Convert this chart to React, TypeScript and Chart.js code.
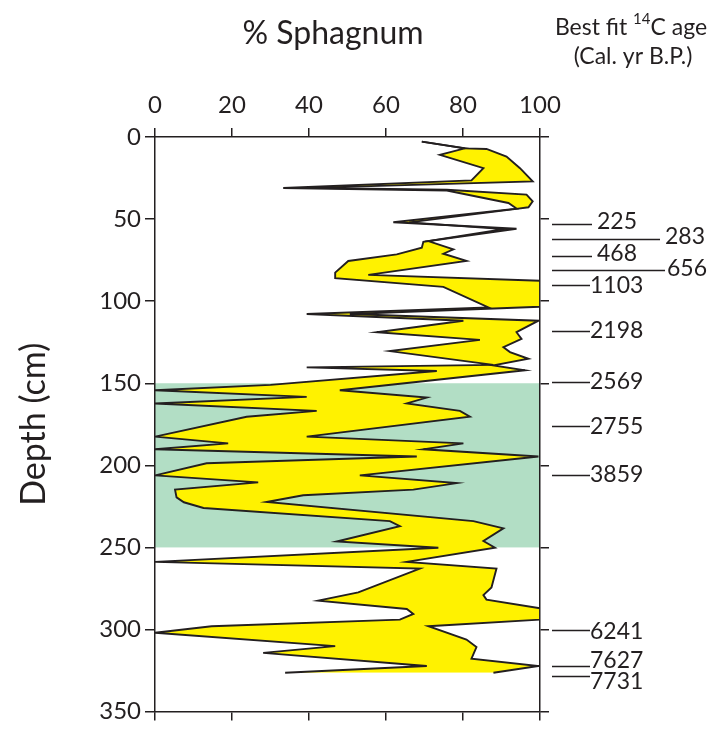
import React, { useEffect, useRef } from "react";
import { Chart, registerables } from "chart.js";

Chart.register(...registerables);

const FONT = "Lato, 'Open Sans', sans-serif";
const INK = "#231f20";
const YELLOW = "#fff200";
const ZONE_GREEN = "#b2dec5";

// Axis ticks
const percentTicks = [0, 20, 40, 60, 80, 100];
const depthTicks = [0, 50, 100, 150, 200, 250, 300, 350];

// Lower bound of % Sphagnum (left edge of the envelope)
const lowerPct = [
  69.3, 80.5, 74.0, 85.3, 82.2, 33.3, 75.8, 91.8, 93.9, 61.9,
  93.9, 69.7, 69.3, 62.8, 50.2, 46.8, 46.8, 74.9, 86.6, 39.4,
  80.1, 57.6, 84.4, 61.0, 87.9, 39.4, 73.2, 30.0, 0, 39.4,
  0, 42.0, 23.8, 0, 19.0, 0, 68.0, 13.4, 0, 26.8,
  5.2, 5.6, 7.5, 12.6, 61.0, 63.6, 47.2, 73.6, 0, 68.8,
  52.8, 42.4, 65.4, 67.1, 63.6, 14.7, 0, 46.8, 28.1, 70.6,
  33.8,
];
const lowerDepth = [
  2.8, 6.9, 10.9, 19.0, 26.4, 31.1, 32.6, 40.2, 43.6, 51.9,
  55.9, 63.8, 67.4, 71.5, 75.5, 82.6, 86.0, 91.3, 103.8, 107.8,
  111.9, 118.9, 123.6, 130.4, 138.8, 140.3, 142.5, 151.0, 154.3, 158.3,
  162.3, 166.8, 170.4, 182.5, 186.6, 190.2, 194.6, 198.7, 206.1, 210.4,
  214.8, 219.5, 222.5, 226.0, 234.0, 237.0, 246.4, 250.2, 258.8, 262.9,
  277.4, 282.4, 287.5, 290.5, 294.0, 298.0, 302.0, 310.1, 314.2, 322.2,
  326.3,
];

// Upper bound of % Sphagnum (right edge of the envelope)
const upperPct = [
  69.3, 80.5, 86.1, 91.3, 94.8, 98.1, 40.3, 75.8, 96.5, 98.1,
  97.0, 93.9, 66.0, 90.5, 71.0, 77.5, 74.9, 80.9, 55.4, 100,
  100, 50.6, 99.6, 93.9, 95.2, 90.5, 92.2, 97.0, 87.9, 96.1,
  48.0, 70.6, 65.4, 79.2, 81.8, 39.4, 80.1, 69.7, 99.6, 53.2,
  78.4, 67.1, 38.5, 29.0, 82.7, 90.5, 85.3, 88.3, 65.4, 88.7,
  87.4, 85.3, 86.1, 100, 100, 71.0, 80.9, 83.5, 82.2, 99.6,
  87.9,
];
const upperDepth = [
  2.8, 6.9, 7.3, 11.9, 19.0, 27.0, 31.0, 32.1, 35.1, 39.2,
  42.8, 43.8, 52.0, 56.1, 63.4, 68.4, 71.1, 75.5, 84.0, 87.6,
  103.4, 107.8, 111.9, 118.9, 123.0, 128.0, 131.0, 135.1, 139.1, 142.1,
  154.3, 158.7, 162.3, 166.8, 170.4, 182.5, 186.6, 190.2, 194.6, 206.1,
  210.8, 214.8, 218.2, 222.3, 234.0, 238.4, 246.1, 250.2, 258.8, 262.9,
  274.4, 279.0, 281.8, 287.1, 294.0, 298.0, 306.1, 310.7, 317.8, 322.2,
  326.3,
];

// Shaded interval (cm)
const zoneTop = 150;
const zoneBottom = 250;

// Best-fit 14C ages (cal yr B.P.) and their depths (cm)
const ageLabels = ["225", "283", "468", "656", "1103", "2198", "2569", "2755", "3859", "6241", "7627", "7731"];
const ageDepths = [52.7, 62.4, 72.5, 81.0, 90.3, 118.3, 149.1, 176.1, 205.7, 300.2, 322.2, 328.2];
// leader length and label offsets per age
const ageLeader = [40, 108, 40, 113, 38, 38, 38, 38, 38, 38, 38, 38];
const ageTextDx = [5, 5, 5, 2, 0, 0, 0, 0, 0, 0, 0, 0];
const ageTextDy = [-3, -3, -3, -2, 0, -1, -1, 0, -1, 1, -6, 5];

const zonePlugin = {
  id: "zoneBand",
  beforeDraw(chart: any) {
    const { ctx, chartArea, scales } = chart;
    const y0 = scales.y.getPixelForValue(zoneTop);
    const y1 = scales.y.getPixelForValue(zoneBottom);
    ctx.save();
    ctx.fillStyle = ZONE_GREEN;
    ctx.fillRect(chartArea.left, y0, chartArea.right - chartArea.left, y1 - y0);
    ctx.restore();
  },
};

const textPlugin = {
  id: "annotationText",
  afterDraw(chart: any) {
    const { ctx, chartArea, scales } = chart;
    ctx.save();
    ctx.strokeStyle = INK;
    ctx.fillStyle = INK;
    ctx.lineWidth = 1.5;
    ctx.font = `23px ${FONT}`;
    ctx.textBaseline = "middle";
    ctx.textAlign = "left";
    ageLabels.forEach((label, i) => {
      const y = Math.round(scales.y.getPixelForValue(ageDepths[i])) + 0.5;
      const x0 = chartArea.right + 12;
      const x1 = x0 + ageLeader[i];
      ctx.beginPath();
      ctx.moveTo(x0, y);
      ctx.lineTo(x1, y);
      ctx.stroke();
      ctx.fillText(label, x1 + ageTextDx[i], y + ageTextDy[i]);
    });

    // x-axis title
    ctx.textAlign = "center";
    ctx.font = `32px ${FONT}`;
    ctx.fillText("% Sphagnum", 333, 34);

    // age column header
    const cx = 631;
    const main = `23px ${FONT}`;
    const sup = `15px ${FONT}`;
    ctx.font = main;
    const w1 = ctx.measureText("Best fit ").width;
    const w3 = ctx.measureText("C age").width;
    ctx.font = sup;
    const w2 = ctx.measureText("14").width;
    let x = cx - (w1 + w2 + w3) / 2;
    ctx.textAlign = "left";
    ctx.font = main;
    ctx.fillText("Best fit ", x, 28);
    x += w1;
    ctx.font = sup;
    ctx.fillText("14", x, 19);
    x += w2;
    ctx.font = main;
    ctx.fillText("C age", x, 28);
    ctx.textAlign = "center";
    ctx.fillText("(Cal. yr B.P.)", cx + 2, 57);
    ctx.restore();
  },
};

export default function App() {
  const canvasRef = useRef<HTMLCanvasElement>(null);

  useEffect(() => {
    const canvas = canvasRef.current;
    if (!canvas) return;

    const lower = lowerDepth.map((d, i) => ({ x: lowerPct[i], y: d }));
    const upper = upperDepth.map((d, i) => ({ x: upperPct[i], y: d }));

    const lineStyle = {
      borderColor: INK,
      borderWidth: 1.9,
      backgroundColor: YELLOW,
      pointRadius: 0,
      tension: 0,
      xAxisID: "x",
      yAxisID: "y",
    };

    const chart = new Chart(canvas, {
      type: "line",
      data: {
        datasets: [
          { label: "min", data: lower, fill: "+1", ...lineStyle },
          { label: "max", data: upper, fill: false, ...lineStyle },
        ],
      },
      options: {
        animation: false,
        responsive: false,
        devicePixelRatio: 1,
        indexAxis: "y",
        layout: { padding: 0 },
        plugins: {
          legend: { display: false },
          tooltip: { enabled: false },
          filler: { drawTime: "beforeDatasetsDraw" },
        },
        scales: {
          x: {
            type: "linear",
            position: "top",
            min: 0,
            max: 100,
            afterBuildTicks: (s: any) => {
              s.ticks = percentTicks.map((v) => ({ value: v }));
            },
            ticks: {
              color: INK,
              font: { family: FONT, size: 24 },
              padding: 8,
              maxRotation: 0,
            },
            grid: { drawOnChartArea: false, tickLength: 9, color: INK, lineWidth: 1.5 },
            border: { display: true, color: INK, width: 1.5 },
            afterFit: (s: any) => {
              s.height = 137;
            },
          },
          x2: {
            type: "linear",
            position: "bottom",
            min: 0,
            max: 100,
            afterBuildTicks: (s: any) => {
              s.ticks = percentTicks.map((v) => ({ value: v }));
            },
            ticks: { display: false },
            grid: { drawOnChartArea: false, tickLength: 9, color: INK, lineWidth: 1.5 },
            border: { display: true, color: INK, width: 1.5 },
            afterFit: (s: any) => {
              s.height = 15;
            },
          },
          y: {
            type: "linear",
            position: "left",
            reverse: true,
            min: 0,
            max: 350,
            afterBuildTicks: (s: any) => {
              s.ticks = depthTicks.map((v) => ({ value: v }));
            },
            ticks: {
              color: INK,
              font: { family: FONT, size: 24 },
              padding: 4,
            },
            grid: { drawOnChartArea: false, tickLength: 10, color: INK, lineWidth: 1.5 },
            border: { display: true, color: INK, width: 1.5 },
            title: {
              display: true,
              text: "Depth (cm)",
              color: INK,
              font: { family: FONT, size: 34 },
              padding: { top: 14, bottom: 0 },
            },
            afterFit: (s: any) => {
              s.width = 155;
            },
          },
          y2: {
            type: "linear",
            position: "right",
            reverse: true,
            min: 0,
            max: 350,
            afterBuildTicks: (s: any) => {
              s.ticks = depthTicks.map((v) => ({ value: v }));
            },
            ticks: { display: false },
            grid: { drawOnChartArea: false, tickLength: 9, color: INK, lineWidth: 1.5 },
            border: { display: true, color: INK, width: 1.5 },
            afterFit: (s: any) => {
              s.width = 179;
            },
          },
        },
      },
      plugins: [zonePlugin, textPlugin],
    } as any);

    return () => chart.destroy();
  }, []);

  return (
    <div style={{ position: "absolute", left: 0, top: 0, width: 719, height: 730, background: "#ffffff" }}>
      <canvas ref={canvasRef} width={719} height={730} style={{ display: "block", width: 719, height: 730 }} />
    </div>
  );
}
